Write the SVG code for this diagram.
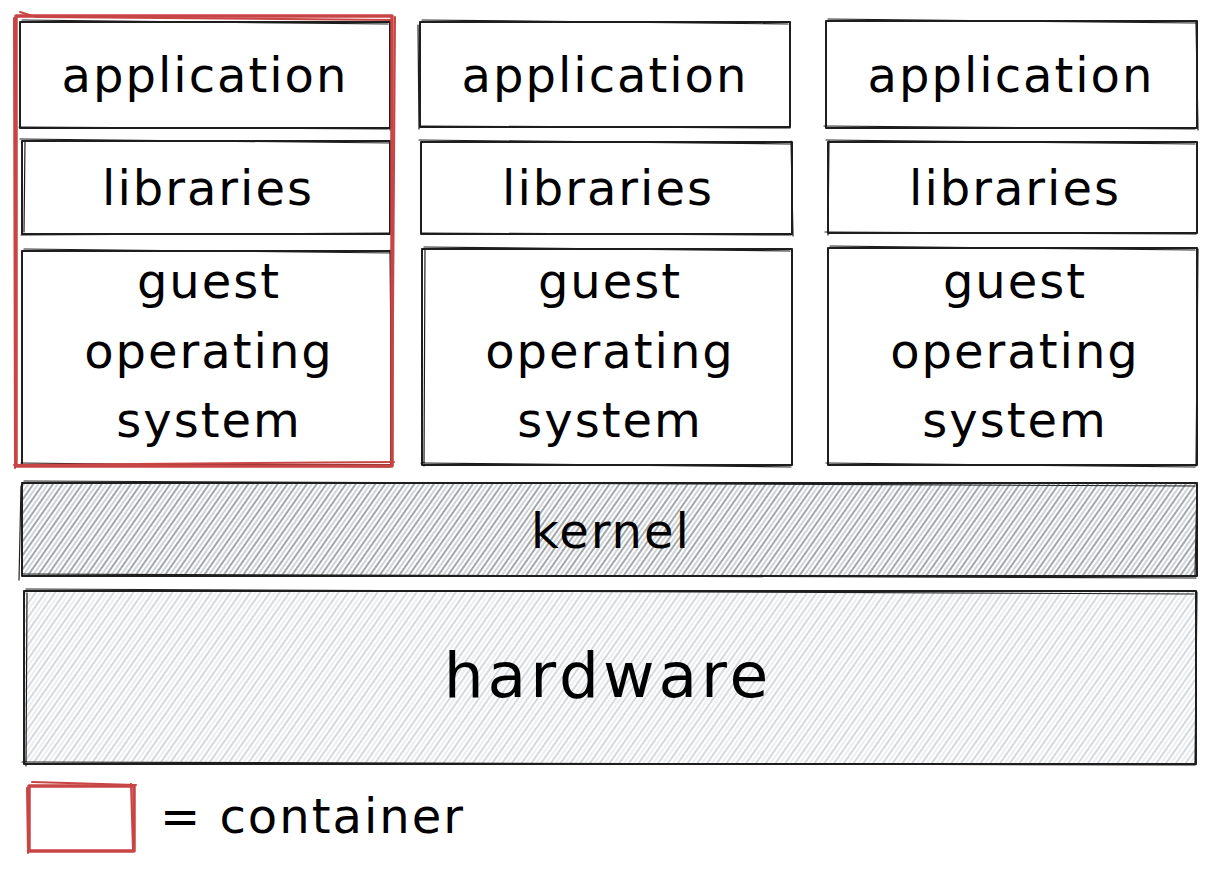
<svg xmlns="http://www.w3.org/2000/svg" width="1218" height="871" viewBox="0 0 1218 871">
<style>
.b{fill:none;stroke:#1e1e1e;stroke-width:2;stroke-linejoin:round;stroke-linecap:round}
.b2{fill:none;stroke:#1e1e1e;stroke-width:1.2;stroke-linecap:round}
.r{fill:none;stroke:#c94444;stroke-width:3.5;stroke-linejoin:round;stroke-linecap:round}
.r2{fill:none;stroke:#c94444;stroke-width:2;stroke-linecap:round}
.t{font-family:"DejaVu Sans",sans-serif;font-size:48px;letter-spacing:2px;fill:#000;text-anchor:middle}
</style>
<defs>
<pattern id="hk" patternUnits="userSpaceOnUse" width="8" height="8" patternTransform="rotate(35)">
<line x1="1" y1="0" x2="1" y2="8" stroke="#70777e" stroke-width="1.3"/>
<line x1="5" y1="0" x2="5" y2="8" stroke="#9aa0a6" stroke-width="0.9"/>
</pattern>
<pattern id="hh" patternUnits="userSpaceOnUse" width="8" height="8" patternTransform="rotate(35)">
<line x1="1" y1="0" x2="1" y2="8" stroke="#bfc5ca" stroke-width="1.3"/>
<line x1="5" y1="0" x2="5" y2="8" stroke="#d5d9dd" stroke-width="0.9"/>
</pattern>
</defs>
<rect width="1218" height="871" fill="#fff"/>

<g id="col1">
<g id="app1"><rect class="b" x="20" y="22" width="370" height="106"/><path class="b2" d="M22 20 L388 24 M391 23 L390 130 M19 127 L388 129"/><text class="t" x="205" y="92">application</text></g>
<g id="lib1"><rect class="b" x="22" y="141" width="368" height="93"/><path class="b2" d="M20 139 L392 143 M25 142 L24 232 M21 235 L390 233"/><text class="t" x="208" y="205">libraries</text></g>
<g id="os1"><rect class="b" x="22" y="251" width="369" height="214"/><path class="b2" d="M24 249 L393 253 M390 250 L392 466 M21 463 L389 467"/><text class="t" x="209" y="298">guest</text><text class="t" x="209" y="368">operating</text><text class="t" x="209" y="437">system</text></g>
</g>

<g id="col2">
<g id="app2"><rect class="b" x="420" y="22" width="370" height="105"/><path class="b2" d="M422 20 L788 24 M418 25 L419 129 M421 126 L790 128"/><text class="t" x="605" y="92">application</text></g>
<g id="lib2"><rect class="b" x="421" y="142" width="371" height="92"/><path class="b2" d="M419 140 L790 144 M791 141 L793 236 M422 233 L791 235"/><text class="t" x="608" y="205">libraries</text></g>
<g id="os2"><rect class="b" x="422" y="249" width="370" height="216"/><path class="b2" d="M424 247 L790 251 M425 250 L424 466 M421 463 L791 467"/><text class="t" x="610" y="298">guest</text><text class="t" x="610" y="368">operating</text><text class="t" x="610" y="437">system</text></g>
</g>

<g id="col3">
<g id="app3"><rect class="b" x="826" y="21" width="371" height="107"/><path class="b2" d="M828 19 L1195 23 M1196 22 L1198 130 M824 126 L1195 129"/><text class="t" x="1011" y="92">application</text></g>
<g id="lib3"><rect class="b" x="828" y="142" width="369" height="91"/><path class="b2" d="M826 140 L1195 144 M829 141 L828 235 M825 232 L1196 234"/><text class="t" x="1015" y="205">libraries</text></g>
<g id="os3"><rect class="b" x="828" y="248" width="369" height="217"/><path class="b2" d="M830 246 L1195 250 M1198 249 L1196 466 M826 463 L1195 467"/><text class="t" x="1015" y="298">guest</text><text class="t" x="1015" y="368">operating</text><text class="t" x="1015" y="437">system</text></g>
</g>

<g id="container1">
<rect class="r" x="16" y="16" width="376" height="450"/>
<path class="r2" d="M20 12 L36 17 L392 20 M14 18 L15 468 M395 17 L392 466 M14 465 L394 462"/>
</g>

<g id="kernel">
<rect x="22" y="483" width="1175" height="93" fill="url(#hk)"/>
<rect class="b" x="22" y="483" width="1175" height="93"/>
<path class="b2" d="M24 481 L1195 486 M21 486 L19 580 M23 574 L1196 578 M1197 484 L1195 576"/>
<text class="t" x="611" y="548">kernel</text>
</g>

<g id="hardware">
<rect x="24" y="591" width="1172" height="173" fill="url(#hh)"/>
<rect class="b" x="24" y="591" width="1172" height="173"/>
<path class="b2" d="M26 589 L1194 594 M27 593 L26 766 M22 762 L1195 765 M1197 592 L1195 764"/>
<text class="t" x="608" y="697" style="font-size:63px;letter-spacing:4px">hardware</text>
</g>

<g id="legend">
<rect class="r" x="29" y="786" width="105" height="65"/>
<path class="r2" d="M32 782 L136 785 M27 788 L28 853 M131 784 L133 851"/>
<text class="t" x="160" y="833" style="text-anchor:start">= container</text>
</g>
</svg>
